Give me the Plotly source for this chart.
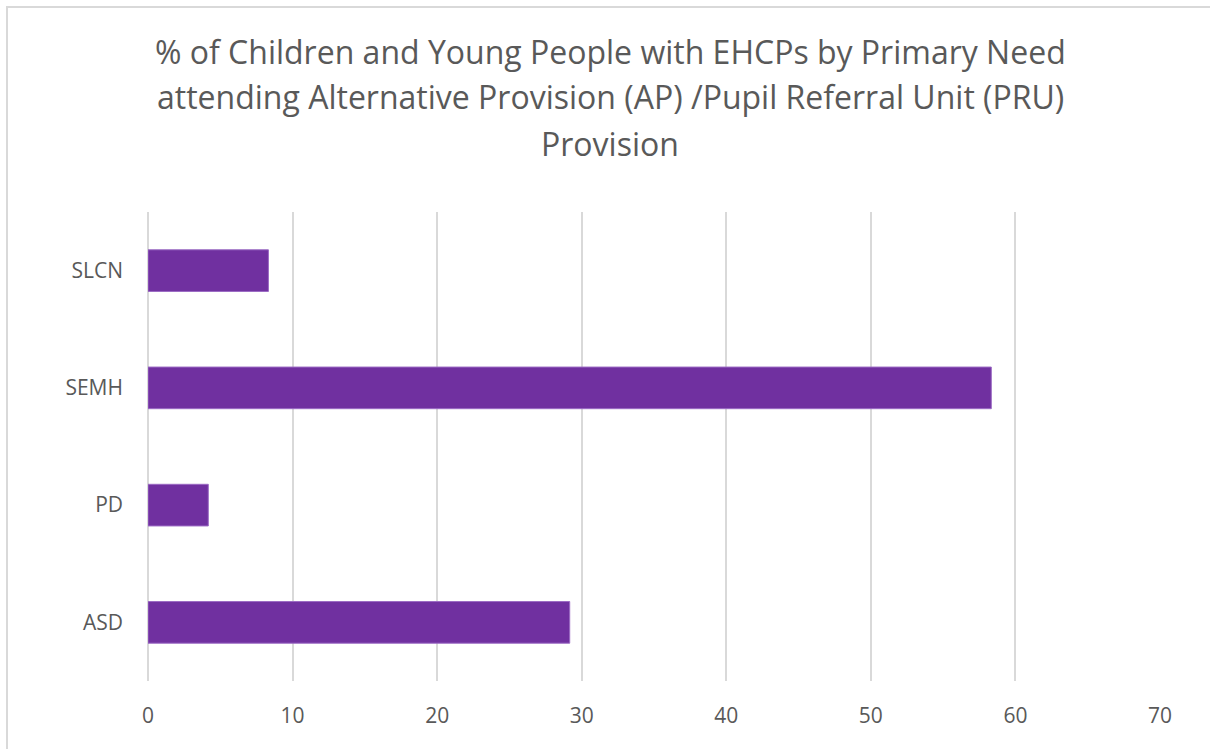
import plotly.graph_objects as go

# Primary need categories (bottom to top) and share of pupils (%)
needs = ["ASD", "PD", "SEMH", "SLCN"]
percent = [29.17, 4.17, 58.33, 8.33]
x_ticks = [0, 10, 20, 30, 40, 50, 60, 70]

title_lines = [
    "% of Children and Young People with EHCPs by Primary Need",
    "attending Alternative Provision (AP) /Pupil Referral Unit (PRU)",
    "Provision",
]

W, H = 1210, 749
L, R, T, B = 148, 50, 212, 68
pw, ph = W - L - R, H - T - B


def px_x(x):
    return (x - L) / pw


def px_y(y):
    return 1 + (T - y) / ph


text_color = "#595959"
font_family = "'Open Sans', sans-serif"

fig = go.Figure(go.Bar(
    x=percent, y=needs, orientation="h",
    marker=dict(color="#7030A0", line=dict(color="#9b6ac4", width=1)),
    hoverinfo="x+y",
))

# Title, one annotation per line for Office-like line spacing
annotations = [
    dict(text=line, xref="paper", yref="paper", x=px_x(610), y=px_y(51 + 46 * i),
         xanchor="center", yanchor="middle", showarrow=False,
         font=dict(size=32, color=text_color, family=font_family))
    for i, line in enumerate(title_lines)
]

fig.update_layout(
    width=W, height=H,
    margin=dict(l=L, r=R, t=T, b=B),
    paper_bgcolor="white", plot_bgcolor="white",
    bargap=0.645,
    showlegend=False,
    font=dict(family=font_family, color=text_color, size=21),
    annotations=annotations,
    xaxis=dict(range=[0, 70], tickvals=x_ticks, showgrid=True,
               gridcolor="#d9d9d9", gridwidth=1.5, zeroline=True,
               zerolinecolor="#d9d9d9", zerolinewidth=1.5, showline=False,
               ticks="", ticklabelstandoff=20, fixedrange=True),
    yaxis=dict(showgrid=False, showline=False, ticks="",
               ticklabelstandoff=24, fixedrange=True),
    shapes=[dict(type="rect", xref="paper", yref="paper",
                 x0=px_x(7), x1=1.2, y0=-0.3, y1=px_y(7),
                 line=dict(color="#d9d9d9", width=2), fillcolor="rgba(0,0,0,0)",
                 layer="below")],
)

fig.write_html("out.html")
